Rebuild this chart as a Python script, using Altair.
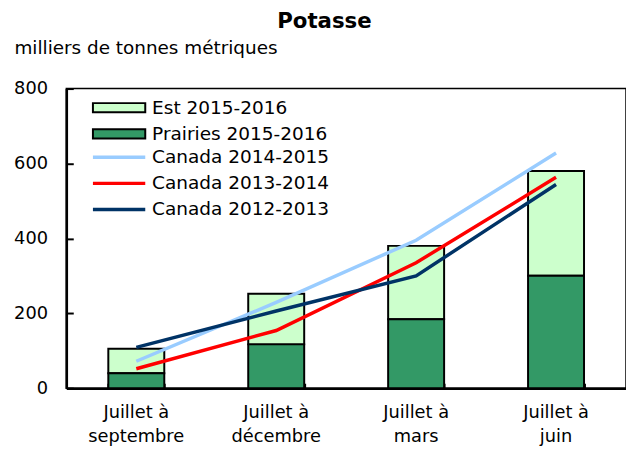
import altair as alt
import pandas as pd

categories = ["Juillet à\nseptembre", "Juillet à\ndécembre", "Juillet à\nmars", "Juillet à\njuin"]
bar_series = ["Est 2015-2016", "Prairies 2015-2016"]
est_values = [65, 135, 196, 280]
prairies_values = [40, 117, 184, 300]
line_series = ["Canada 2014-2015", "Canada 2013-2014", "Canada 2012-2013"]
canada_2014_2015 = [72, 229, 395, 628]
canada_2013_2014 = [52, 154, 335, 563]
canada_2012_2013 = [109, 206, 300, 544]
y_ticks = [0, 200, 400, 600, 800]

bar_colors = ["#CCFFCC", "#339966"]
line_colors = ["#99CCFF", "#FF0000", "#003366"]

FONT = "DejaVu Sans"

bars_df = pd.DataFrame({
    "cat": categories * 2,
    "series": [bar_series[0]] * 4 + [bar_series[1]] * 4,
    "value": est_values + prairies_values,
    "order": [1] * 4 + [0] * 4,
})

lines_df = pd.DataFrame({
    "cat": categories * 3,
    "series": [line_series[0]] * 4 + [line_series[1]] * 4 + [line_series[2]] * 4,
    "value": canada_2014_2015 + canada_2013_2014 + canada_2012_2013,
})

xscale = alt.Scale(domain=categories, paddingInner=0.6, paddingOuter=0.3)
yscale = alt.Scale(domain=[0, 800], nice=False)

bars = alt.Chart(bars_df).mark_bar(stroke="black", strokeWidth=2).encode(
    x=alt.X("cat:N", scale=xscale, sort=categories,
            axis=alt.Axis(orient="bottom", title=None, labelAngle=0,
                          labelExpr="split(datum.label, '\\n')",
                          labelFontSize=18, labelColor="black", labelPadding=16,
                          labelLineHeight=24, ticks=False, domain=True,
                          domainColor="black", domainWidth=2.5)),
    y=alt.Y("value:Q", stack="zero", scale=yscale,
            axis=alt.Axis(orient="left", values=y_ticks, title="milliers de tonnes métriques",
                          titleAngle=0, titleAlign="left", titleBaseline="alphabetic",
                          titleX=-53, titleY=-35, titleFontSize=18.6, titleFontWeight="normal",
                          titleColor="black", ticks=False, labelPadding=19,
                          labelFontSize=18, labelColor="black", grid=False,
                          domain=True, domainWidth=2.5, domainColor="black")),
    fill=alt.Fill("series:N", scale=alt.Scale(domain=bar_series, range=bar_colors),
                  legend=alt.Legend(title=None, orient="none", legendX=44, legendY=10,
                                    symbolType="M-4,-0.7H4V0.7H-4Z", symbolSize=175,
                                    symbolStrokeColor="black", symbolStrokeWidth=2,
                                    symbolOpacity=1, labelFontSize=18.7, labelColor="black",
                                    labelOffset=24, labelLimit=0, rowPadding=6.5, padding=0)),
    order=alt.Order("order:Q"),
)

lines = alt.Chart(lines_df).mark_line(strokeWidth=3.5).encode(
    x=alt.X("cat:N", scale=xscale, sort=categories,
            axis=alt.Axis(orient="top", offset=-303, labels=False, title=None, domain=False,
                          tickBand="extent", tickSize=5, tickWidth=2, tickColor="black")),
    y=alt.Y("value:Q", scale=yscale,
            axis=alt.Axis(orient="right", offset=-566, labels=False, title=None, domain=False,
                          values=y_ticks, tickSize=7, tickWidth=2, tickColor="black", grid=False)),
    stroke=alt.Stroke("series:N", scale=alt.Scale(domain=line_series, range=line_colors),
                      legend=alt.Legend(title=None, orient="none", legendX=44, legendY=60,
                                        symbolType="M-4,0H4", symbolSize=175,
                                        symbolStrokeWidth=3.5, symbolOpacity=1,
                                        labelFontSize=18.7, labelColor="black",
                                        labelOffset=24, labelLimit=0, rowPadding=6.5, padding=0)),
)

chart = alt.layer(bars, lines).resolve_axis(x="independent", y="independent").resolve_legend(
    fill="independent", stroke="independent"
).properties(
    width=566,
    height=303,
    padding={"left": 5, "top": 0, "right": 0, "bottom": 0},
    title=alt.TitleParams("Potasse", fontSize=21.5, fontWeight="bold", color="black",
                          anchor="middle", baseline="bottom", offset=-15, dx=-22),
).configure(font=FONT).configure_view(stroke="black", strokeWidth=1.5)

chart.save("out.html", embed_options={"renderer": "svg", "actions": False})
